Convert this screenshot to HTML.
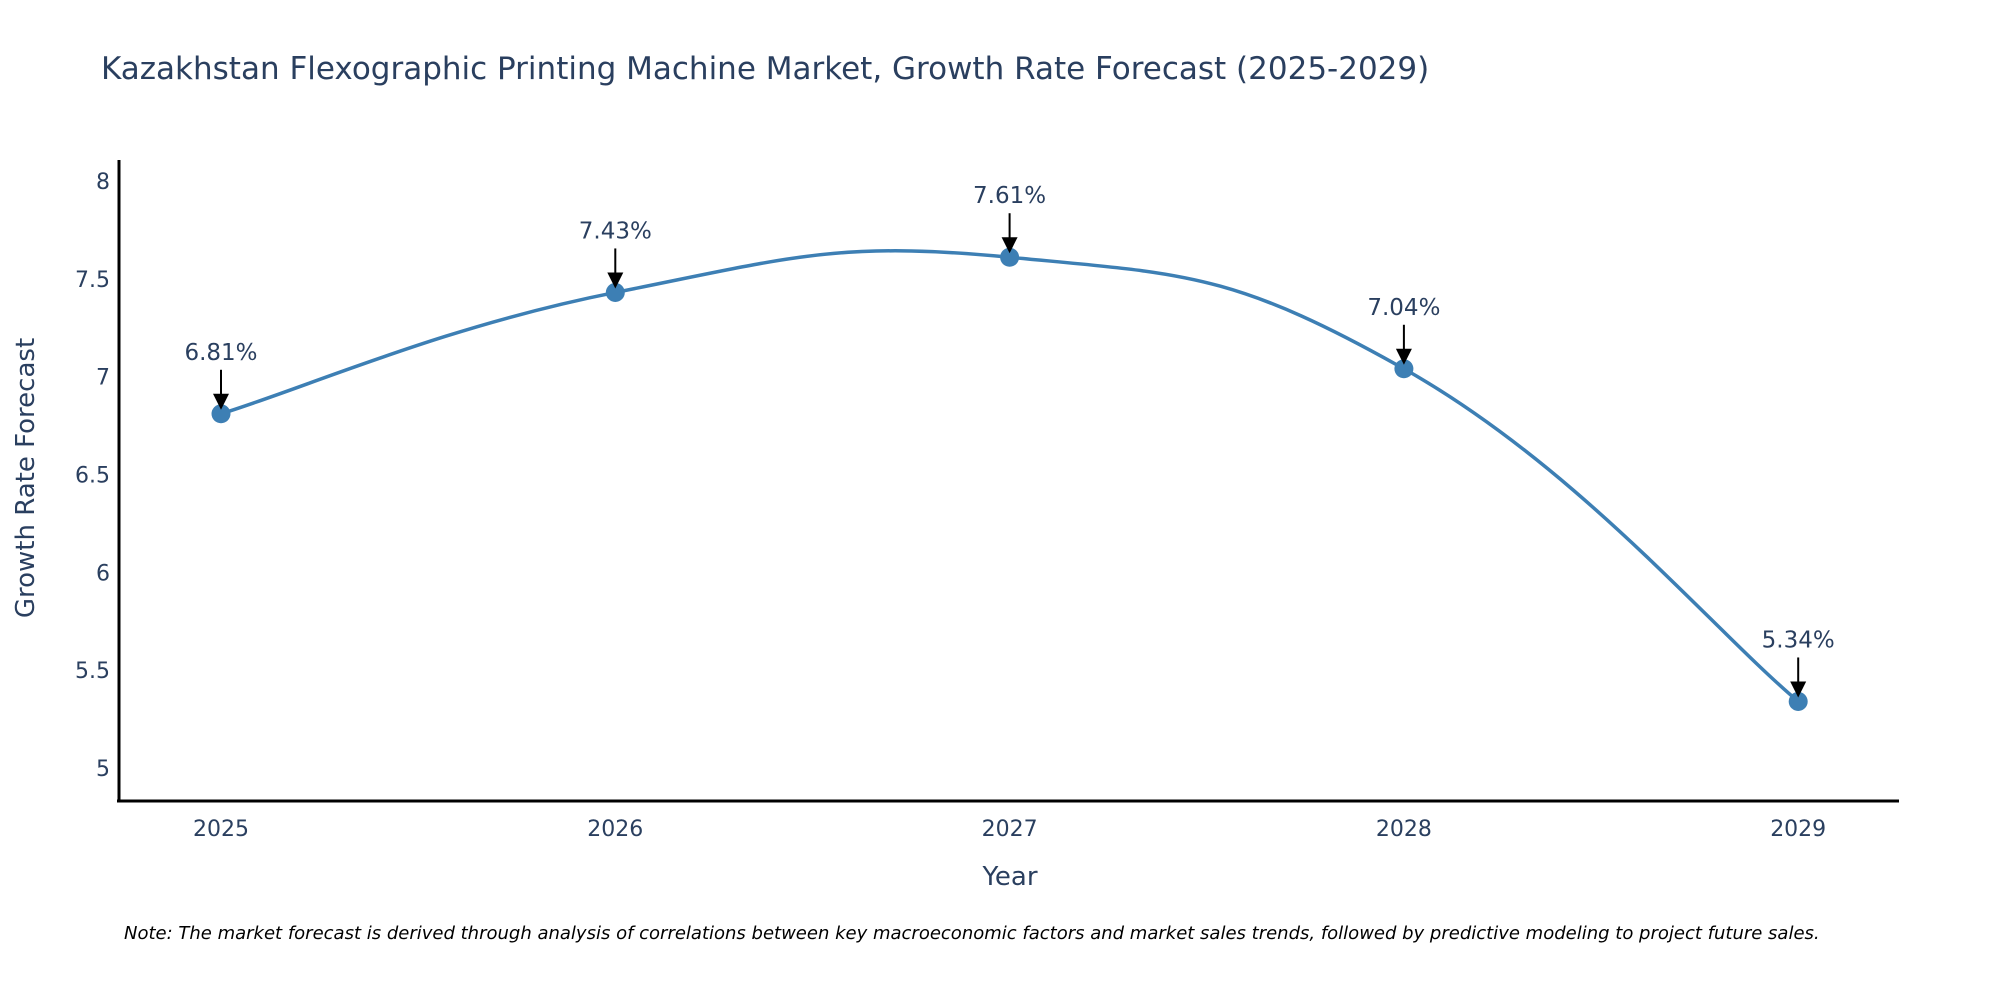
<!DOCTYPE html>
<html><head><meta charset="utf-8"><style>
body{margin:0;background:#fff;}
svg{display:block;font-family:"DejaVu Sans","Liberation Sans",sans-serif;}
</style></head><body>
<svg id="chart" width="2000" height="1000" viewBox="0 0 2000 1000">
<text x="101" y="79" font-size="31" fill="#2a3f5f">Kazakhstan Flexographic Printing Machine Market, Growth Rate Forecast (2025-2029)</text>
<g id="yticks"></g><g id="xticks"></g>
<line x1="119" y1="160" x2="119" y2="802" stroke="#000" stroke-width="3"/>
<line x1="117" y1="801" x2="1899" y2="801" stroke="#000" stroke-width="3"/>
<path id="line" fill="none" stroke="#3d7fb4" stroke-width="3.5"/>
<g id="points"></g><g id="annots"></g>
<text x="1010" y="885" font-size="26" fill="#2a3f5f" text-anchor="middle">Year</text>
<text transform="translate(34,478) rotate(-90)" font-size="26" fill="#2a3f5f" text-anchor="middle">Growth Rate Forecast</text>
<text x="124" y="939" font-size="18" font-style="italic" fill="#000">Note: The market forecast is derived through analysis of correlations between key macroeconomic factors and market sales trends, followed by predictive modeling to project future sales.</text>
</svg>
<script>
const years=[2025,2026,2027,2028,2029];
const values=[6.81,7.43,7.61,7.04,5.34];
const yTicks=[5,5.5,6,6.5,7,7.5,8];
const labels=["6.81%","7.43%","7.61%","7.04%","5.34%"];
const NS="http://www.w3.org/2000/svg";
function xs(v){return 221+(v-2025)*394.3;}
function ys(v){return 768-(v-5)*195.7;}
function mk(t,a,p){const e=document.createElementNS(NS,t);for(const k in a)e.setAttribute(k,a[k]);if(p)document.getElementById(p).appendChild(e);return e;}
yTicks.forEach(v=>{const t=mk('text',{x:110,y:ys(v)+8,'font-size':22,fill:'#2a3f5f','text-anchor':'end'},'yticks');t.textContent=v;

});
years.forEach(v=>{const t=mk('text',{x:xs(v),y:836,'font-size':22,fill:'#2a3f5f','text-anchor':'middle'},'xticks');t.textContent=v;

});
const P=years.map((y,i)=>[xs(y),ys(values[i])]);
let d='M'+P[0][0]+','+P[0][1];const s=0.22;
for(let i=0;i<P.length-1;i++){const p0=P[Math.max(i-1,0)],p1=P[i],p2=P[i+1],p3=P[Math.min(i+2,P.length-1)];
d+=' C'+(p1[0]+(p2[0]-p0[0])*s)+','+(p1[1]+(p2[1]-p0[1])*s)+' '+(p2[0]-(p3[0]-p1[0])*s)+','+(p2[1]-(p3[1]-p1[1])*s)+' '+p2[0]+','+p2[1];}
document.getElementById('line').setAttribute('d',d);
P.forEach((p,i)=>{const c=mk('circle',{cx:p[0],cy:p[1],r:9.5,fill:'#3d7fb4'},'points');


const l=mk('line',{x1:p[0],y1:p[1]-44,x2:p[0],y2:p[1]-16,stroke:'#000','stroke-width':2},'annots');


const h=mk('path',{d:`M${p[0]-8},${p[1]-20} L${p[0]+8},${p[1]-20} L${p[0]},${p[1]-4} Z`,fill:'#000'},'annots');


const t=mk('text',{x:p[0],y:p[1]-54,'font-size':23,fill:'#2a3f5f','text-anchor':'middle'},'annots');t.textContent=labels[i];

});
</script>
</body></html>
